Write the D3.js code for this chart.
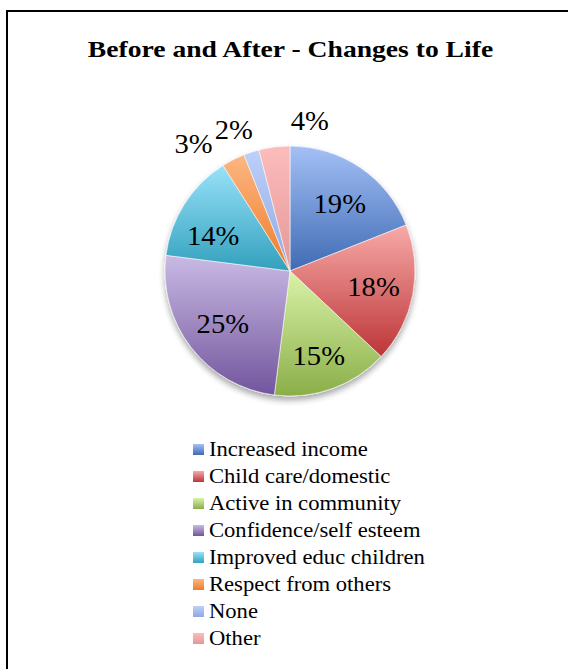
<!DOCTYPE html>
<html>
<head>
<meta charset="utf-8">
<script src="https://cdn.jsdelivr.net/npm/d3@7"></script>
<style>
  html, body { margin: 0; padding: 0; background: #fff; }
  svg { display: block; }
  text { font-family: "Liberation Serif", "DejaVu Serif", serif; fill: #000; }
</style>
</head>
<body>
<div id="chart"></div>
<script>
const categories = [
  "Increased income", "Child care/domestic", "Active in community",
  "Confidence/self esteem", "Improved educ children", "Respect from others",
  "None", "Other"
];
const values = [19, 18, 15, 25, 14, 3, 2, 4];
const colorsTop = ["#a4c0f6", "#f7aaa8", "#daf3a8", "#c9bae4", "#98e2f9", "#fcb682", "#bcd0f9", "#fdbcbc"];
const colorsBottom = ["#3f6bb4", "#bd3537", "#8aae48", "#72559d", "#32a0bd", "#ef7c28", "#90a9e3", "#e39797"];
const title = "Before and After - Changes to Life";

const width = 568, height = 669;
const cx = 290, cy = 271, R = 125;
const smallSlice = 5;
const widen = 1.13; // serif here is narrower than the original's font

// label nudges to mimic the "best fit" placement
const labelShift = {
  "Increased income": [2, 3],
  "Active in community": [0, 5],
  "Improved educ children": [-5, 10],
  "Respect from others": [-27, 9],
  "None": [-9, 4],
  "Other": [39, 1]
};

function stretch(sel, k) {
  sel.each(function() {
    const w = this.getComputedTextLength();
    d3.select(this).attr("textLength", w * k).attr("lengthAdjust", "spacingAndGlyphs");
  });
}

const svg = d3.select("#chart").append("svg")
  .attr("width", width)
  .attr("height", height);

const defs = svg.append("defs");

categories.forEach((c, i) => {
  const g = defs.append("linearGradient")
    .attr("id", "grad" + i)
    .attr("x1", 0).attr("y1", 0).attr("x2", 0).attr("y2", 1);
  g.append("stop").attr("offset", "0%").attr("stop-color", colorsTop[i]);
  g.append("stop").attr("offset", "100%").attr("stop-color", colorsBottom[i]);
});

const shadow = defs.append("filter").attr("id", "shadow")
  .attr("x", "-20%").attr("y", "-20%").attr("width", "140%").attr("height", "140%");
shadow.append("feGaussianBlur").attr("in", "SourceAlpha").attr("stdDeviation", 3);
shadow.append("feOffset").attr("dy", 4).attr("result", "blur");
shadow.append("feComponentTransfer").append("feFuncA").attr("type", "linear").attr("slope", 0.35);
const merge = shadow.append("feMerge");
merge.append("feMergeNode");
merge.append("feMergeNode").attr("in", "SourceGraphic");

// frame
svg.append("rect")
  .attr("x", 7).attr("y", 11)
  .attr("width", 700).attr("height", 800)
  .attr("fill", "none")
  .attr("stroke", "#000")
  .attr("stroke-width", 2);

svg.append("text")
  .attr("x", 290.5).attr("y", 57)
  .attr("text-anchor", "middle")
  .style("font-size", "23px")
  .style("font-weight", "bold")
  .text(title)
  .call(stretch, 1.2);

const pie = d3.pie().sort(null).value(d => d);
const arcs = pie(values);
const arc = d3.arc().innerRadius(0).outerRadius(R);
const inLabel = d3.arc().innerRadius(85).outerRadius(85);
const outLabel = d3.arc().innerRadius(R + 28).outerRadius(R + 28);

const g = svg.append("g").attr("transform", `translate(${cx},${cy})`);

g.append("g").attr("filter", "url(#shadow)")
  .selectAll("path")
  .data(arcs)
  .join("path")
  .attr("d", arc)
  .attr("fill", (d, i) => `url(#grad${i})`)
  .attr("stroke", "#fff")
  .attr("stroke-opacity", 0.7)
  .attr("stroke-width", 0.8);

g.selectAll("text.pct")
  .data(arcs)
  .join("text")
  .attr("class", "pct")
  .attr("transform", (d, i) => {
    const p = (d.value <= smallSlice ? outLabel : inLabel).centroid(d);
    const s = labelShift[categories[i]] || [0, 0];
    return `translate(${p[0] + s[0]},${p[1] + s[1]})`;
  })
  .attr("text-anchor", "middle")
  .attr("dy", "0.35em")
  .style("font-size", "27px")
  .text(d => d.value + "%")
  .call(stretch, 1.06);

// legend
const legendY = d3.scaleBand()
  .domain(categories)
  .range([442, 442 + 27 * categories.length]);

const legend = svg.append("g")
  .selectAll("g")
  .data(categories)
  .join("g")
  .attr("transform", d => `translate(193,${legendY(d)})`);

legend.append("rect")
  .attr("y", 2)
  .attr("width", 11)
  .attr("height", 11)
  .attr("fill", (d, i) => `url(#grad${i})`);

legend.append("text")
  .attr("x", 16)
  .attr("y", 14)
  .style("font-size", "20px")
  .text(d => d)
  .call(stretch, widen);
</script>
</body>
</html>
